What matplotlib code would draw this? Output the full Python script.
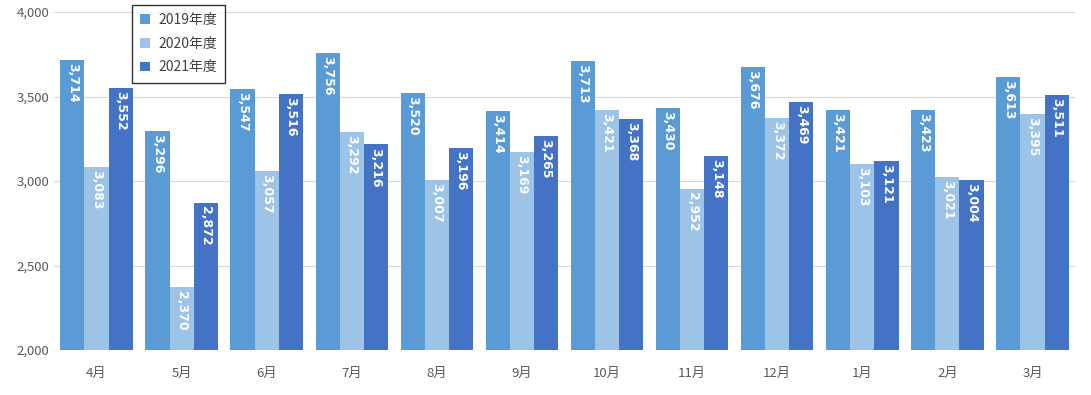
import matplotlib.pyplot as plt
import numpy as np

plt.rcParams['font.family'] = ['Noto Sans CJK JP', 'DejaVu Sans']

months = ['4月', '5月', '6月', '7月', '8月', '9月', '10月', '11月', '12月', '1月', '2月', '3月']
fy2019 = [3714, 3296, 3547, 3756, 3520, 3414, 3713, 3430, 3676, 3421, 3423, 3613]
fy2020 = [3083, 2370, 3057, 3292, 3007, 3169, 3421, 2952, 3372, 3103, 3021, 3395]
fy2021 = [3552, 2872, 3516, 3216, 3196, 3265, 3368, 3148, 3469, 3121, 3004, 3511]
series_names = ['2019年度', '2020年度', '2021年度']
colors = ['#5B9BD5', '#9DC3E6', '#4472C4']

fig = plt.figure(figsize=(10.91, 3.95), dpi=100)
ax = fig.add_axes([54 / 1091, 45 / 395, 1021 / 1091, 338 / 395])

x = np.arange(len(months))
w = 0.284
for i, (vals, name, c) in enumerate(zip([fy2019, fy2020, fy2021], series_names, colors)):
    pos = x + (i - 1) * w
    bars = ax.bar(pos, vals, width=w, color=c, label=name, zorder=2)
    for b, v in zip(bars, vals):
        # value labels rotated, inside the top of each bar
        ax.text(b.get_x() + b.get_width() / 2, v - 18, f'{v:,}', rotation=-90,
                ha='center', va='top', color='white', fontsize=9, fontweight='bold',
                family='DejaVu Sans', zorder=3)

ax.set_ylim(2000, 4000)
ax.set_xlim(-0.5, len(months) - 0.5)
ax.set_yticks([2000, 2500, 3000, 3500, 4000])
ax.set_yticklabels([f'{t:,}' for t in [2000, 2500, 3000, 3500, 4000]])
ax.set_xticks(x)
ax.set_xticklabels(months)
ax.yaxis.grid(True, color='#D9D9D9', linewidth=0.8, zorder=0)
ax.tick_params(axis='both', length=0, colors='#595959', labelsize=9.5)
ax.tick_params(axis='x', pad=12)
for s in ax.spines.values():
    s.set_visible(False)

leg = ax.legend(loc='upper left', bbox_to_anchor=(78 / 1021, 1.022), frameon=True,
                fancybox=False, edgecolor='black', fontsize=10, handlelength=0.7,
                handleheight=0.7, labelspacing=0.7, borderpad=0.6, handletextpad=0.6,
                borderaxespad=0)
leg.get_frame().set_linewidth(1.0)
for t in leg.get_texts():
    t.set_color('#404040')

fig.savefig('out.png', dpi=100)
